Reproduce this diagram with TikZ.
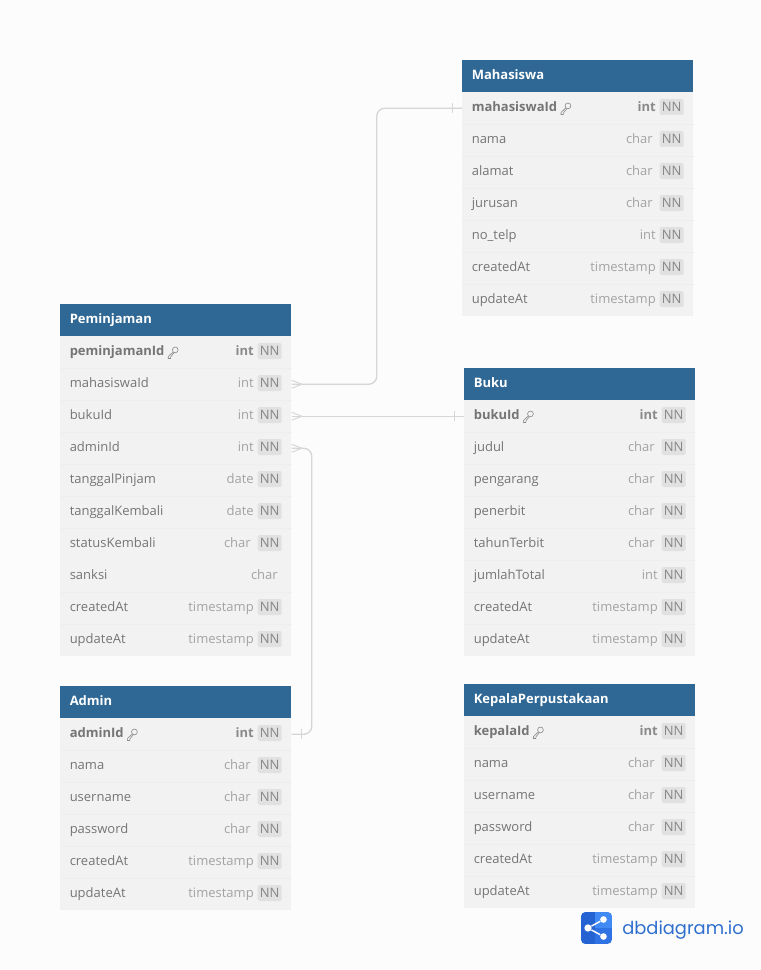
\documentclass[tikz,border=0pt]{standalone}
\usepackage{xcolor}
\usepackage{fontspec}
\setmainfont{Open Sans}
\newfontfamily\logofont{Poppins}
\usetikzlibrary{positioning, calc}
\definecolor{erd-head}{HTML}{2F6795}
\definecolor{erd-row}{HTML}{F2F2F2}
\definecolor{erd-sep}{HTML}{EEEEEE}
\definecolor{erd-text}{HTML}{757575}
\definecolor{erd-type}{HTML}{A3A3A3}
\definecolor{erd-badge}{HTML}{E1E1E1}
\definecolor{erd-badgetext}{HTML}{868686}
\definecolor{erd-link}{HTML}{D6D6D6}
\definecolor{erd-page}{HTML}{FCFCFC}
\definecolor{logo-dark}{HTML}{2563D2}
\definecolor{logo-mid}{HTML}{2F72E4}
\definecolor{logo-light}{HTML}{418AF6}
\definecolor{logo-text}{HTML}{2F6FCF}
\tikzset{
    celltext/.style={inner sep=0pt, text height=7.5pt, text depth=2.5pt},
    headbox/.style={fill=erd-head, minimum width=173.4pt, minimum height=24pt, inner sep=0pt},
    headtext/.style={celltext, white, anchor=west, font=\fontsize{9.75}{12}\selectfont\bfseries},
    rowbox/.style={fill=erd-row, minimum width=173.4pt, minimum height=24pt, inner sep=0pt},
    fieldtext/.style={celltext, erd-text, anchor=west, font=\fontsize{9.75}{12}\selectfont},
    pktext/.style={fieldtext, font=\fontsize{9.75}{12}\selectfont\bfseries},
    typetext/.style={celltext, erd-type, anchor=east, font=\fontsize{9.75}{12}\selectfont},
    pktype/.style={typetext, erd-text!85, font=\fontsize{9.75}{12}\selectfont\bfseries},
    badge/.style={inner sep=0pt, text height=7.5pt, text depth=0.3pt, fill=erd-badge, text=erd-badgetext,
        rounded corners=1.5pt, anchor=east, minimum width=18pt, minimum height=12pt, font=\fontsize{9.75}{12}\selectfont},
    rowline/.style={erd-sep, line width=0.5pt},
    relline/.style={erd-link, line width=1pt, rounded corners=6pt},
    endmark/.style={erd-link, line width=0.7pt},
    pkkey/.pic={
        \draw[erd-text!85, line width=0.45pt] (7,-2.6) circle (2.9);
        \draw[erd-text!85, line width=0.45pt] (4.9,-0.6) -- (0,4) -- (0,6) -- (2.4,6) -- (2.4,4.4) -- (5.9,0.2);
    }
}
\newcommand{\chartype}{char\kern2.25pt}
\newcommand{\erdhead}[6]{
    \node[headbox, anchor=north west] (#1-head) at (#2,#3) {};
    \node[headtext] (#1-title) at (#2+9.5,#3+16.5) {#4};
    \node[rowbox, anchor=north west] (#1-#5) at (#2,#3+32) {};
    \node[pktext] (#1-#5-name) at (#2+9.5,#3+48.5) {#5};
    \pic at ($(#1-#5-name.east)+(3.5,0)$) {pkkey};
    \node[badge] (#1-#5-nn) at (#2+222,#3+47) {NN};
    \node[pktype] (#1-#5-type) at (#2+194,#3+48.5) {#6};
}
\newcommand{\erdrows}[4]{
    \foreach \i/\fname/\ftype in {#4} {
        \node[rowbox, anchor=north west] (#1-\fname) at (#2,#3+32*\i) {};
        \draw[rowline] (#1-\fname.north west) -- (#1-\fname.north east);
        \node[fieldtext] (#1-\fname-name) at (#2+9.5,#3+32*\i+16.5) {\fname};
        \node[badge] (#1-\fname-nn) at (#2+222,#3+32*\i+15) {NN};
        \node[typetext] (#1-\fname-type) at (#2+194,#3+32*\i+16.5) {\ftype};
    }
}
\begin{document}
\catcode`\_=12
\begin{tikzpicture}[x=0.75pt, y=-0.75pt]
    \fill[erd-page] (0,0) rectangle (760,970);
    \useasboundingbox (0,0) rectangle (760,970);

    \erdhead{mahasiswa}{462}{60}{Mahasiswa}{mahasiswaId}{int}
    \erdrows{mahasiswa}{462}{60}{2/nama/\chartype, 3/alamat/\chartype, 4/jurusan/\chartype, 5/no_telp/int, 6/createdAt/timestamp, 7/updateAt/timestamp}

    \erdhead{peminjaman}{60}{304}{Peminjaman}{peminjamanId}{int}
    \erdrows{peminjaman}{60}{304}{2/mahasiswaId/int, 3/bukuId/int, 4/adminId/int, 5/tanggalPinjam/date, 6/tanggalKembali/date, 7/statusKembali/\chartype}
    \node[rowbox, anchor=north west] (peminjaman-sanksi) at (60,560) {};
    \node[fieldtext] (peminjaman-sanksi-name) at (69.5,576.5) {sanksi};
    \node[typetext] (peminjaman-sanksi-type) at (278,576.5) {char};
    \erdrows{peminjaman}{60}{304}{9/createdAt/timestamp, 10/updateAt/timestamp}

    \erdhead{buku}{464}{368}{Buku}{bukuId}{int}
    \erdrows{buku}{464}{368}{2/judul/\chartype, 3/pengarang/\chartype, 4/penerbit/\chartype, 5/tahunTerbit/\chartype, 6/jumlahTotal/int, 7/createdAt/timestamp, 8/updateAt/timestamp}

    \erdhead{admin}{60}{686}{Admin}{adminId}{int}
    \erdrows{admin}{60}{686}{2/nama/\chartype, 3/username/\chartype, 4/password/\chartype, 5/createdAt/timestamp, 6/updateAt/timestamp}

    \erdhead{kepala}{464}{684}{KepalaPerpustakaan}{kepalaId}{int}
    \erdrows{kepala}{464}{684}{2/nama/\chartype, 3/username/\chartype, 4/password/\chartype, 5/createdAt/timestamp, 6/updateAt/timestamp}

    \draw[relline] (peminjaman-mahasiswaId.east) -- ++(85,0) |- (mahasiswa-mahasiswaId.west);
    \draw[relline] (peminjaman-bukuId.east) -- (buku-bukuId.west);
    \draw[relline] (peminjaman-adminId.east) -- ++(20,0) |- (admin-adminId.east);

    \foreach \rel in {peminjaman-mahasiswaId, peminjaman-bukuId, peminjaman-adminId} {
        \draw[endmark] ($(\rel.east)+(0,-4)$) -- ($(\rel.east)+(10,0)$) -- ($(\rel.east)+(0,4)$);
    }
    \foreach \rel in {mahasiswa-mahasiswaId, buku-bukuId} {
        \draw[endmark] ($(\rel.west)+(-10,-5)$) -- ($(\rel.west)+(-10,5)$);
    }
    \draw[endmark] ($(admin-adminId.east)+(10,-5)$) -- ($(admin-adminId.east)+(10,5)$);

    \begin{scope}
        \clip[rounded corners=3.5pt] (581,912) rectangle (612,944);
        \fill[logo-mid] (581,912) rectangle (612,944);
        \fill[logo-dark] (581,912) rectangle (595,944);
        \fill[logo-light] (595,912) rectangle (612,928);
    \end{scope}
    \node[circle, fill=white, inner sep=0pt, minimum size=5.5pt] (share-left) at (588,928) {};
    \node[circle, fill=white, inner sep=0pt, minimum size=5pt] (share-top) at (603.5,919.5) {};
    \node[circle, fill=white, inner sep=0pt, minimum size=5pt] (share-bottom) at (603.5,936.5) {};
    \draw[white, line width=1.1pt] (share-top) -- (share-left) -- (share-bottom);
    \node[logo-text, anchor=west, inner sep=0pt, font=\fontsize{13.4}{16}\logofont] (logo-name) at (622,930) {dbdiagram.io};
\end{tikzpicture}
\end{document}
